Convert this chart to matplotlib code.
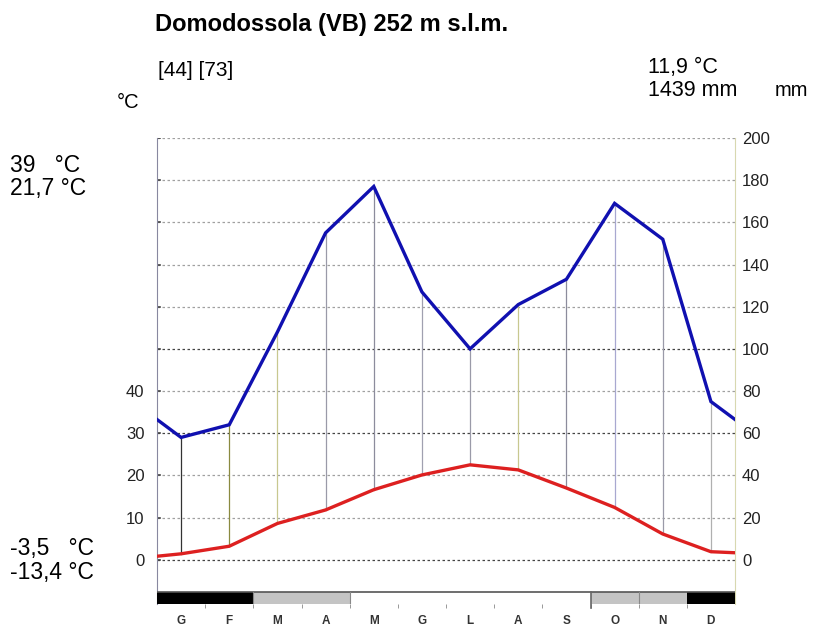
import numpy as np
import matplotlib
matplotlib.use("Agg")
import matplotlib.pyplot as plt
from matplotlib.patches import Rectangle

plt.rcParams['font.family'] = ['Liberation Sans', 'DejaVu Sans']

months = ['G', 'F', 'M', 'A', 'M', 'G', 'L', 'A', 'S', 'O', 'N', 'D']
precip = [58, 64, 108, 155, 177, 127, 100, 121, 133, 169, 152, 75]   # mm
temp = [1.4, 3.2, 8.6, 11.8, 16.6, 20.1, 22.5, 21.3, 17.0, 12.4, 6.1, 1.9]  # °C
frost = [2, 2, 1, 1, 0, 0, 0, 0, 0, 1, 1, 2]   # 2 sure frost, 1 possible
vcolors = ['#333333', '#8a8a40', '#c8c890', '#9a9aa8', '#8c8c9c', '#a0a0b0',
           '#9a9aa8', '#c8c890', '#8c8c9c', '#a8a8d0', '#9a9aa8', '#b0b0b0']

station = "Domodossola (VB) 252 m s.l.m."
years = "[44] [73]"
t_mean = "11,9 °C"
p_sum = "1439 mm"

fig = plt.figure(figsize=(8.13, 6.3), dpi=100)
ax = fig.add_axes([157/813, 1-604/630, (735-157)/813, (604-138)/630])

x = np.arange(12)
# wrap-around ends of the curves at the plot edges
p_edge = (precip[0] + precip[-1]) / 2
t_edge = (temp[0] + temp[-1]) / 2
xe = np.concatenate([[-0.5], x, [11.5]])
pe = np.concatenate([[p_edge], precip, [p_edge]])
te = np.concatenate([[t_edge], np.array(temp) * 2, [t_edge * 2]])

# grid
for v in range(0, 201, 20):
    dark = v in (0, 60, 100)
    ax.plot([-0.5, 11.5], [v, v], linestyle=(0, (2, 2)), lw=0.9,
            color='#444444' if dark else '#a0a0a0', zorder=1)
    ax.plot([-0.5, -0.43], [v, v], color='#444444', lw=1.2, zorder=2)

# humid period vertical lines
for i in range(12):
    ax.plot([i, i], [temp[i] * 2, precip[i]], color=vcolors[i], lw=0.9, zorder=2)

ax.plot(xe, pe, color='#1010b0', lw=2.4, zorder=4, solid_joinstyle='miter')
ax.plot(xe, te, color='#dd2020', lw=2.4, zorder=4)

# frost bar
fcol = {2: 'black', 1: '#c4c4c4', 0: 'white'}
for i in range(12):
    ax.add_patch(Rectangle((i - 0.5, -21), 1, 5.8, facecolor=fcol[frost[i]],
                           edgecolor='none', zorder=3))
ax.plot([-0.5, 11.5], [-15.2, -15.2], color='#555555', lw=1.2, zorder=3)
ax.plot([1.5, 1.5], [-21, -15.2], color='#888888', lw=0.8, zorder=3)
ax.plot([3.5, 3.5], [-21, -15.2], color='#888888', lw=0.8, zorder=3)
ax.plot([8.5, 8.5], [-23, -15.2], color='#666666', lw=1.2, zorder=3, clip_on=False)
ax.plot([9.5, 9.5], [-21, -15.2], color='#888888', lw=0.8, zorder=3)

ax.set_xlim(-0.5, 11.5)
ax.set_ylim(-21, 200)

for s in ['top', 'bottom']:
    ax.spines[s].set_visible(False)
ax.spines['left'].set_color('#8888a0')
ax.spines['right'].set_color('#d8d8b0')

ax.set_xticks(x)
ax.set_xticklabels(months, fontsize=8.5, color='#333333', fontweight='bold')
ax.set_xticks(np.arange(0.5, 11, 1), minor=True)
ax.tick_params(axis='x', which='major', length=0, pad=8)
ax.tick_params(axis='x', which='minor', length=3, color='#888888')

ax.set_yticks([0, 20, 40, 60, 80])
ax.set_yticklabels(['0', '10', '20', '30', '40'], fontsize=12, color='#222222')
ax.tick_params(axis='y', length=0, pad=9)

ax2 = ax.twinx()
ax2.set_position(ax.get_position())
ax2.set_ylim(-21, 200)
ax2.set_yticks(range(0, 201, 20))
ax2.set_yticklabels([str(v) for v in range(0, 201, 20)], fontsize=12, color='#222222')
ax2.tick_params(axis='y', length=0, pad=5)
for s in ax2.spines.values():
    s.set_visible(False)

fig.text(155/813, 1-24/630, station, fontsize=17, fontweight='bold', va='center')
fig.text(158/813, 1-70/630, years, fontsize=15, va='center')
fig.text(117/813, 1-103/630, "°C", fontsize=14.5, va='center')
fig.text(648/813, 1-67/630, t_mean, fontsize=15.5, va='center')
fig.text(648/813, 1-90/630, p_sum, fontsize=15.5, va='center')
fig.text(775/813, 1-90/630, "mm", fontsize=14.5, va='center')
fig.text(10/813, 1-165/630, "39   °C", fontsize=16.5, va='center')
fig.text(10/813, 1-188/630, "21,7 °C", fontsize=16.5, va='center')
fig.text(10/813, 1-548/630, "-3,5   °C", fontsize=16.5, va='center')
fig.text(10/813, 1-572/630, "-13,4 °C", fontsize=16.5, va='center')

fig.savefig("out.png", dpi=100)
